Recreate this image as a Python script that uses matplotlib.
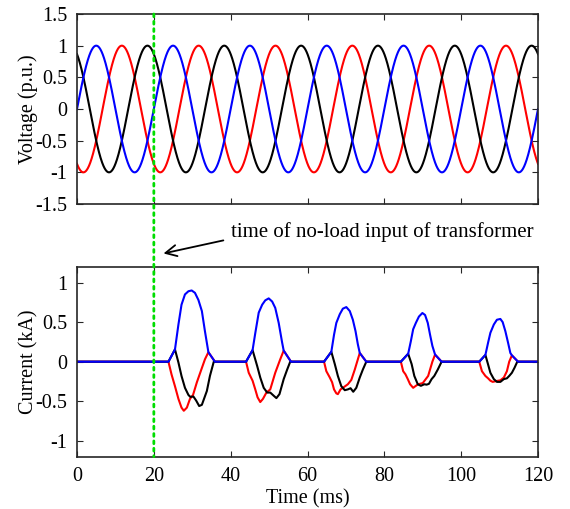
import numpy as np
import matplotlib
matplotlib.use("Agg")
from matplotlib import pyplot as plt
from matplotlib.patches import ConnectionPatch

plt.rcParams["font.family"] = ["Liberation Serif", "DejaVu Serif"]
plt.rcParams["axes.unicode_minus"] = False

# supply voltage: 50 Hz, 1 p.u., phase angles of the three phases (deg)
v_freq = 50.0
v_amp = 1.0
v_phase = {"blue": 0.0, "red": -120.0, "black": 120.0}

# inrush current traces (ms, kA), five pulses after energising at 20 ms
t_blue = [0, 23.8, 25.5, 26.4, 27.2, 28.1, 29.0, 29.85, 30.7, 31.6, 32.5, 33.3, 34.2, 35.9,
          44.0, 45.7, 46.4, 47.3, 48.2, 49.0, 49.9, 50.8, 51.6, 52.5, 53.4, 53.8, 55.7,
          64.3, 66.2, 66.9, 67.5, 68.4, 69.2, 70.1, 71.0, 71.8, 72.5, 73.1, 73.6, 75.3,
          84.3, 86.2, 86.9, 87.5, 88.2, 89.0, 89.9, 90.6, 91.3, 91.9, 92.5, 93.2, 94.9,
          104.7, 106.3, 107.0, 107.6, 108.5, 109.3, 110.2, 110.8, 111.5, 112.2, 112.8, 113.2, 114.8,
          120]
i_blue = [0, 0, 0.155, 0.47, 0.72, 0.85, 0.89, 0.90, 0.87, 0.78, 0.64, 0.385, 0.12, 0,
          0, 0.146, 0.36, 0.62, 0.72, 0.775, 0.80, 0.76, 0.68, 0.49, 0.24, 0.14, 0,
          0, 0.125, 0.34, 0.49, 0.60, 0.67, 0.69, 0.64, 0.53, 0.385, 0.22, 0.11, 0,
          0, 0.10, 0.26, 0.41, 0.49, 0.57, 0.615, 0.59, 0.49, 0.34, 0.20, 0.09, 0,
          0, 0.085, 0.24, 0.365, 0.47, 0.53, 0.54, 0.50, 0.385, 0.24, 0.11, 0.08, 0,
          0]

t_red = [0, 23.8, 24.6, 25.5, 26.4, 27.2, 27.8, 28.6, 29.4, 30.2, 31.2, 32.5, 33.3, 34.2, 35.9,
         44.0, 44.7, 45.7, 46.4, 47.0, 47.7, 48.4, 49.3, 50.3, 51.6, 52.9, 53.8, 55.7,
         64.3, 64.9, 65.8, 66.4, 66.9, 67.5, 67.9, 68.6, 69.5, 70.5, 71.4, 72.3, 73.6, 75.3,
         84.3, 84.9, 85.5, 86.1, 86.7, 87.5, 88.2, 88.8, 90.0, 91.4, 92.5, 93.2, 94.9,
         104.7, 105.4, 106.3, 107.0, 107.6, 108.2, 109.1, 110.2, 111.1, 111.9, 112.5, 113.2, 114.8,
         120]
i_red = [0, 0, -0.16, -0.31, -0.47, -0.58, -0.62, -0.58, -0.47, -0.42, -0.26, -0.08, 0.03, 0.12, 0,
         0, -0.14, -0.24, -0.35, -0.45, -0.51, -0.47, -0.39, -0.35, -0.14, 0.03, 0.14, 0,
         0, -0.12, -0.20, -0.26, -0.35, -0.40, -0.41, -0.35, -0.32, -0.285, -0.23, -0.10, 0.11, 0,
         0, -0.12, -0.16, -0.22, -0.285, -0.33, -0.305, -0.285, -0.27, -0.18, 0.0, 0.09, 0,
         0, -0.12, -0.18, -0.21, -0.24, -0.255, -0.245, -0.235, -0.20, -0.12, 0.0, 0.08, 0,
         0]

t_black = [0, 23.8, 25.5, 26.4, 27.2, 28.1, 29.0, 29.5, 30.3, 31.0, 31.8, 32.5, 33.8, 34.6, 35.6,
           44.0, 45.7, 46.9, 47.7, 48.6, 49.5, 50.3, 51.2, 51.9, 52.7, 53.8, 54.7, 55.5,
           64.3, 66.2, 67.1, 67.9, 68.8, 69.7, 70.5, 71.2, 71.9, 72.7, 73.6, 74.4, 75.3,
           84.3, 86.2, 87.1, 87.8, 88.7, 89.5, 90.4, 91.0, 91.6, 92.3, 93.0, 93.9, 94.9,
           104.7, 106.3, 107.0, 107.6, 108.5, 109.3, 110.2, 111.1, 111.9, 112.5, 113.2, 113.9, 114.6,
           120]
i_black = [0, 0, 0.155, -0.01, -0.18, -0.33, -0.42, -0.445, -0.44, -0.49, -0.56, -0.545, -0.37, -0.18, 0,
           0, 0.146, -0.055, -0.20, -0.33, -0.39, -0.39, -0.43, -0.46, -0.41, -0.22, -0.10, 0,
           0, 0.125, -0.03, -0.18, -0.31, -0.36, -0.35, -0.335, -0.38, -0.33, -0.20, -0.10, 0,
           0, 0.10, -0.03, -0.18, -0.285, -0.305, -0.285, -0.29, -0.28, -0.22, -0.18, -0.10, 0,
           0, 0.085, -0.035, -0.14, -0.22, -0.255, -0.255, -0.22, -0.21, -0.18, -0.14, -0.075, 0,
           0]

t_switch = 20.0
note = "time of no-load input of transformer"

fig = plt.figure(figsize=(5.70, 5.09), dpi=100)
ax1 = fig.add_axes([0.1351, 0.5992, 0.8088, 0.3733])
ax2 = fig.add_axes([0.1351, 0.1028, 0.8088, 0.3732])

t = np.linspace(0, 120, 2401)
for name in ["red", "black", "blue"]:
    v = v_amp * np.sin(2 * np.pi * v_freq * t / 1000.0 + np.deg2rad(v_phase[name]))
    ax1.plot(t, v, color=name, lw=1.5)

ax2.plot(t_red, i_red, color="red", lw=1.5)
ax2.plot(t_black, i_black, color="black", lw=1.5)
ax2.plot(t_blue, i_blue, color="blue", lw=1.5)

for ax in (ax1, ax2):
    ax.set_xlim(0, 120)
    ax.set_xticks(np.arange(0, 121, 20))
    ax.tick_params(direction="in", top=True, right=True, labelsize=14.5,
                   length=4, width=0.8, colors="#262626", labelcolor="black")
    ax.tick_params(axis="y", pad=7)
    ax.tick_params(axis="x", pad=7.5)
    for s in ax.spines.values():
        s.set_linewidth(1.2)
        s.set_color("#262626")

ax1.set_ylim(-1.5, 1.5)
ax1.set_yticks([-1.5, -1, -0.5, 0, 0.5, 1, 1.5])
ax1.set_yticklabels(["-1.5", "-1", "-0.5", "0", "0.5", "1", "1.5"])
ax1.set_xticklabels([])
ax1.set_ylabel("Voltage (p.u.)", fontsize=14.5, labelpad=-2)

ax2.set_ylim(-1.2, 1.2)
ax2.set_yticks([-1, -0.5, 0, 0.5, 1])
ax2.set_yticklabels(["-1", "-0.5", "0", "0.5", "1"])
ax2.set_ylabel("Current (kA)", fontsize=14.5, labelpad=-2)
ax2.set_xlabel("Time (ms)", fontsize=14.5, labelpad=2.5)

# switching instant across both panels
con = ConnectionPatch(xyA=(t_switch, 1.5), coordsA=ax1.transData,
                      xyB=(t_switch, -1.2), coordsB=ax2.transData,
                      color="#00dd00", lw=2, linestyle=":")
fig.add_artist(con)

ax2.annotate("", xy=(21.8, 1.36), xytext=(38.8, 1.54), xycoords="data",
             arrowprops=dict(arrowstyle="->", color="black", lw=1.3,
                             mutation_scale=20), annotation_clip=False)
ax2.text(40.0, 1.64, note, fontsize=15, va="center", ha="left")

fig.savefig("out.png", dpi=100)
